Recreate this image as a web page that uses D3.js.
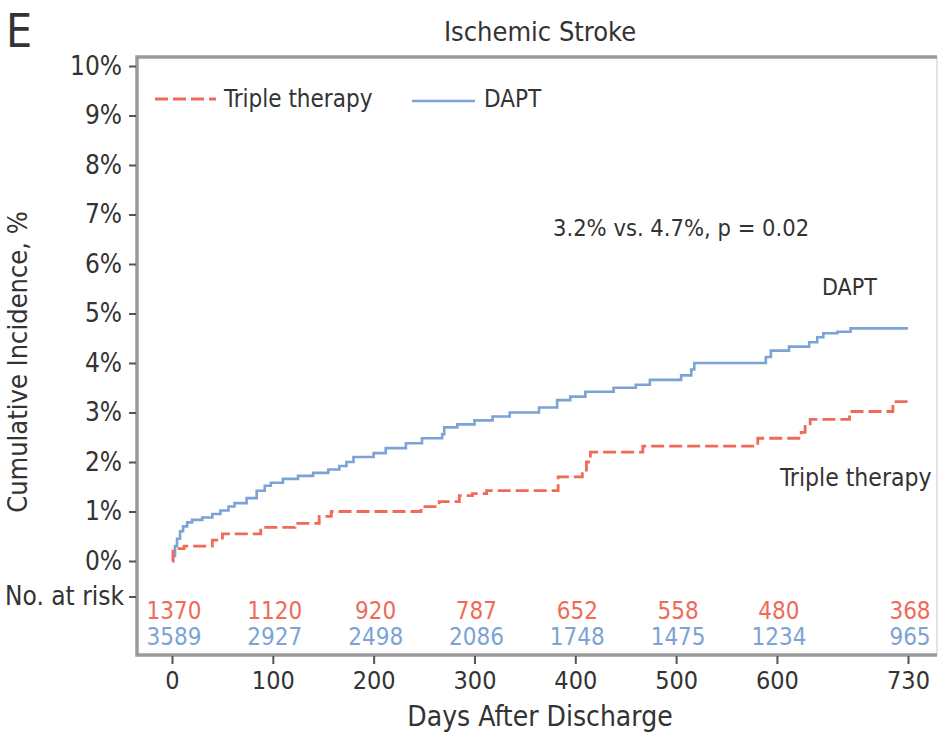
<!DOCTYPE html>
<html>
<head>
<meta charset="utf-8">
<script src="https://cdn.jsdelivr.net/npm/d3@7"></script>
<style>
  body { margin: 0; background: #fff; }
  svg text { font-family: 'Liberation Sans Narrow', 'DejaVu Sans Condensed', sans-serif; fill: #333; }
</style>
</head>
<body>
<svg id="chart" width="939" height="734"></svg>
<script>
// step points: [day, cumulative incidence %]
const dapt = [[0,0],[1,0.1],[3,0.3],[5,0.45],[8,0.6],[11,0.7],[15,0.78],[20,0.83],[30,0.88],[40,0.95],[48,1.02],[56,1.1],[62,1.17],[74,1.27],[84,1.42],[92,1.52],[98,1.58],[110,1.66],[125,1.72],[140,1.78],[155,1.85],[166,1.92],[173,2.0],[180,2.1],[200,2.18],[212,2.28],[232,2.38],[248,2.48],[268,2.56],[270,2.7],[283,2.76],[300,2.84],[318,2.92],[335,3.0],[364,3.1],[382,3.25],[395,3.32],[410,3.42],[438,3.5],[460,3.56],[474,3.66],[505,3.75],[515,3.87],[518,4.0],[589,4.12],[594,4.25],[612,4.33],[632,4.42],[640,4.52],[646,4.6],[660,4.63],[673,4.7],[730,4.7]];
const triple = [[0,0],[1,0.2],[5,0.25],[12,0.3],[40,0.42],[50,0.55],[88,0.68],[122,0.76],[146,0.9],[158,1.0],[247,1.1],[265,1.2],[285,1.32],[298,1.36],[312,1.42],[383,1.7],[407,1.8],[411,2.0],[415,2.2],[467,2.32],[581,2.48],[624,2.6],[628,2.72],[633,2.86],[672,3.02],[715,3.22],[730,3.22]];

const dayTicks = [0, 100, 200, 300, 400, 500, 600, 730];
const pctTicks = [0, 1, 2, 3, 4, 5, 6, 7, 8, 9, 10];
const riskTriple = [1370, 1120, 920, 787, 652, 558, 480, 368];
const riskDapt = [3589, 2927, 2498, 2086, 1748, 1475, 1234, 965];

const RED = "#ef6a57", BLUE = "#7ba3d5", GREY = "#9b9b9b";

const svg = d3.select("#chart");
const x = d3.scaleLinear().domain([0, 730]).range([172, 908]);
const y = d3.scaleLinear().domain([0, 10]).range([561, 66]);

// frame
const frame = {l: 137, t: 57, r: 937, b: 655};
svg.append("line").attr("x1", frame.r).attr("x2", frame.r).attr("y1", frame.t).attr("y2", frame.b)
  .attr("stroke", "#e4e4e4").attr("stroke-width", 2);
svg.append("path")
  .attr("d", `M${frame.r},${frame.t}H${frame.l}V${frame.b}H${frame.r}`)
  .attr("fill", "none").attr("stroke", GREY).attr("stroke-width", 3.5);

// y axis
const yAxis = svg.append("g").attr("transform", `translate(${frame.l - 1},0)`)
  .call(d3.axisLeft(y).tickValues(pctTicks).tickFormat(d => d + "%").tickSize(7).tickPadding(7));
yAxis.select(".domain").remove();
yAxis.selectAll(".tick line").attr("stroke", "#555").attr("stroke-width", 2);
yAxis.selectAll("text").style("font-size", "26px").attr("fill", "#3a3a3a");
// extra "No. at risk" tick
const nr = yAxis.append("g").attr("transform", "translate(0,597)");
nr.append("line").attr("x2", -7).attr("stroke", "#555").attr("stroke-width", 2);
nr.append("text").attr("x", -12).attr("dy", "0.32em").attr("text-anchor", "end")
  .style("font-size", "26px").text("No. at risk");

// x axis
const xAxis = svg.append("g").attr("transform", `translate(0,${frame.b + 1})`)
  .call(d3.axisBottom(x).tickValues(dayTicks).tickSize(8).tickPadding(7));
xAxis.select(".domain").remove();
xAxis.selectAll(".tick line").attr("stroke", "#555").attr("stroke-width", 2);
xAxis.selectAll("text").style("font-size", "25px").attr("fill", "#3a3a3a");

// curves
const line = d3.line().x(d => x(d[0])).y(d => y(d[1])).curve(d3.curveStepAfter);
svg.append("path").datum(dapt).attr("d", line)
  .attr("fill", "none").attr("stroke", BLUE).attr("stroke-width", 2.6);
svg.append("path").datum(triple).attr("d", line)
  .attr("fill", "none").attr("stroke", RED).attr("stroke-width", 2.8).attr("stroke-dasharray", "13,5");

// numbers at risk
svg.append("g").selectAll("text").data(riskTriple).join("text")
  .attr("x", (d, i) => x(dayTicks[i]) + 2).attr("y", 619)
  .attr("text-anchor", "middle").style("font-size", "24px").style("fill", RED).text(d => d);
svg.append("g").selectAll("text").data(riskDapt).join("text")
  .attr("x", (d, i) => x(dayTicks[i]) + 2).attr("y", 645)
  .attr("text-anchor", "middle").style("font-size", "24px").style("fill", BLUE).text(d => d);

// legend
const leg = svg.append("g");
leg.append("line").attr("x1", 155).attr("x2", 216).attr("y1", 99).attr("y2", 99)
  .attr("stroke", RED).attr("stroke-width", 2.8).attr("stroke-dasharray", "13,5");
leg.append("text").attr("x", 224).attr("y", 107).style("font-size", "24px").text("Triple therapy");
leg.append("line").attr("x1", 412).attr("x2", 475).attr("y1", 101).attr("y2", 101)
  .attr("stroke", BLUE).attr("stroke-width", 2.6);
leg.append("text").attr("x", 484).attr("y", 107).style("font-size", "24px").text("DAPT");

// annotations
svg.append("text").attr("x", 553).attr("y", 236).style("font-size", "23.5px").text("3.2% vs. 4.7%, p = 0.02");
svg.append("text").attr("x", 822).attr("y", 295).style("font-size", "23px").text("DAPT");
svg.append("text").attr("x", 780).attr("y", 486).style("font-size", "24.5px").text("Triple therapy");

// titles
svg.append("text").attr("x", 540).attr("y", 41).attr("text-anchor", "middle")
  .style("font-size", "27px").text("Ischemic Stroke");
svg.append("text").attr("x", 6).attr("y", 47).style("font-size", "46px").attr("fill", "#444").text("E");
svg.append("text").attr("transform", "translate(27,362) rotate(-90)").attr("text-anchor", "middle")
  .style("font-size", "27px").text("Cumulative Incidence, %");
svg.append("text").attr("x", 540).attr("y", 726).attr("text-anchor", "middle")
  .style("font-size", "28px").text("Days After Discharge");
</script>
</body>
</html>
